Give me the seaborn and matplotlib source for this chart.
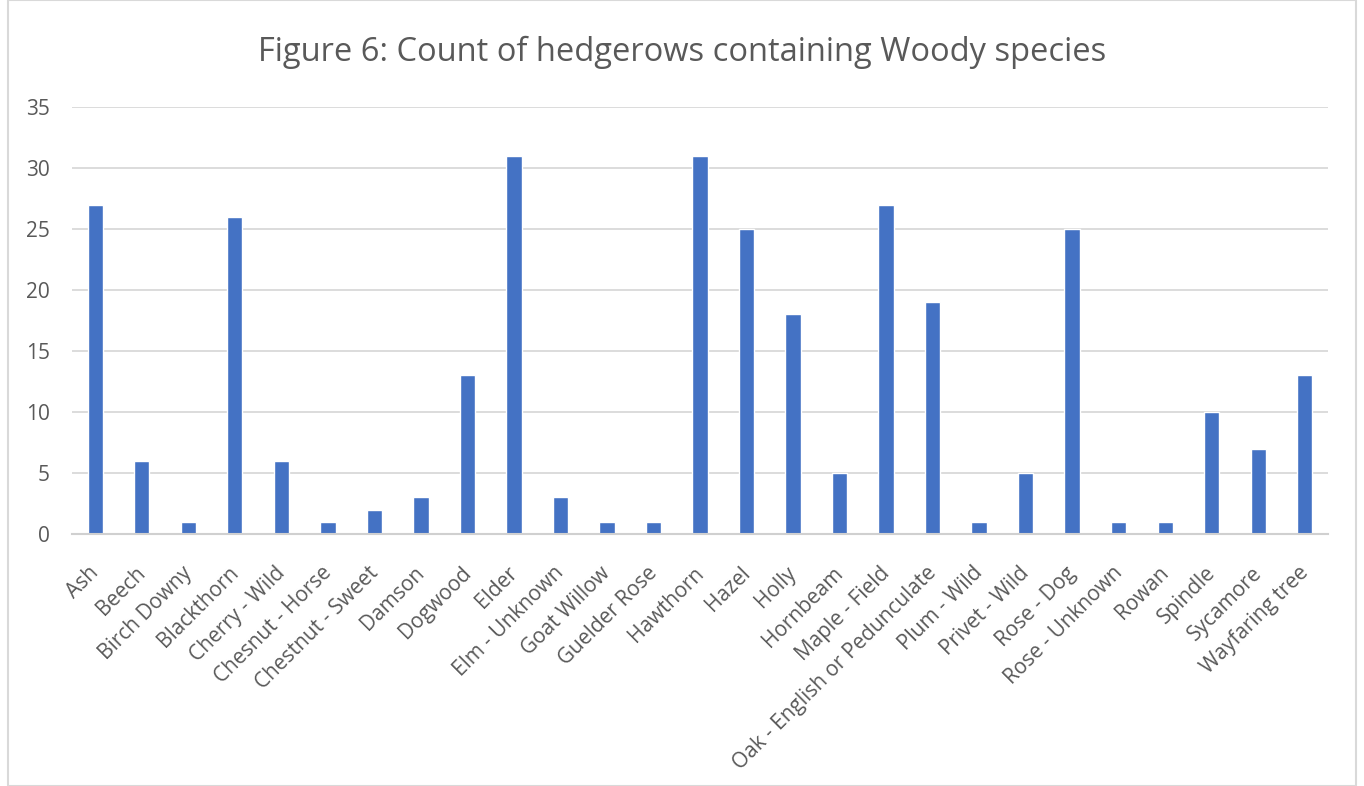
import matplotlib
matplotlib.use("Agg")
import matplotlib.pyplot as plt
import matplotlib.transforms as mtransforms
import seaborn as sns
import pandas as pd
from matplotlib.patches import Rectangle

species = [
    "Ash", "Beech", "Birch Downy", "Blackthorn", "Cherry - Wild",
    "Chesnut - Horse", "Chestnut - Sweet", "Damson", "Dogwood", "Elder",
    "Elm - Unknown", "Goat Willow", "Guelder Rose", "Hawthorn", "Hazel",
    "Holly", "Hornbeam", "Maple - Field", "Oak - English or Pedunculate",
    "Plum - Wild", "Privet - Wild", "Rose - Dog", "Rose - Unknown", "Rowan",
    "Spindle", "Sycamore", "Wayfaring tree",
]
counts = [27, 6, 1, 26, 6, 1, 2, 3, 13, 31, 3, 1, 1, 31, 25, 18, 5, 27, 19,
          1, 5, 25, 1, 1, 10, 7, 13]
y_ticks = [0, 5, 10, 15, 20, 25, 30, 35]

df = pd.DataFrame({"species": species, "count": counts})

sns.set_theme(style="white")
plt.rcParams["font.family"] = ["Open Sans", "DejaVu Sans"]

fig = plt.figure(figsize=(13.64, 7.86), dpi=100)
ax = fig.add_axes([72 / 1364, 1 - 534 / 786, (1328 - 72) / 1364, (534 - 107) / 786])

sns.barplot(data=df, x="species", y="count", color="#4472C4", width=0.33,
            saturation=1, ax=ax, zorder=3)

ax.set_ylim(0, 35)
ax.set_xlim(-0.5, len(species) - 0.5)
ax.set_yticks(y_ticks)
ax.set_yticklabels([str(v) for v in y_ticks])
ax.yaxis.grid(True, color="#D9D9D9", linewidth=1.3, zorder=0)
ax.set_xlabel("")
ax.set_ylabel("")
for side in ("top", "right", "left"):
    ax.spines[side].set_visible(False)
ax.spines["bottom"].set_color("#D0D0D0")
ax.spines["bottom"].set_linewidth(1.5)
ax.spines["bottom"].set_zorder(4)

ax.tick_params(axis="both", length=0, colors="#595959", labelsize=15)
ax.tick_params(axis="y", pad=16)
ax.tick_params(axis="x", pad=12)
plt.setp(ax.get_xticklabels(), rotation=45, ha="right", rotation_mode="anchor")

# nudge the slanted category labels slightly left and down
shift = mtransforms.ScaledTranslation(-7 / 100, -12 / 100, fig.dpi_scale_trans)
for lab in ax.get_xticklabels():
    lab.set_transform(lab.get_transform() + shift)

fig.text(0.5, 1 - 52 / 786, "Figure 6: Count of hedgerows containing Woody species",
         ha="center", va="center", fontsize=23.5, color="#595959")

fig.patches.append(Rectangle((8 / 1364, 0), (1356 - 8) / 1364, 1,
                             transform=fig.transFigure, fill=False,
                             edgecolor="#D9D9D9", linewidth=1.5))

fig.savefig("out.png", dpi=100)
